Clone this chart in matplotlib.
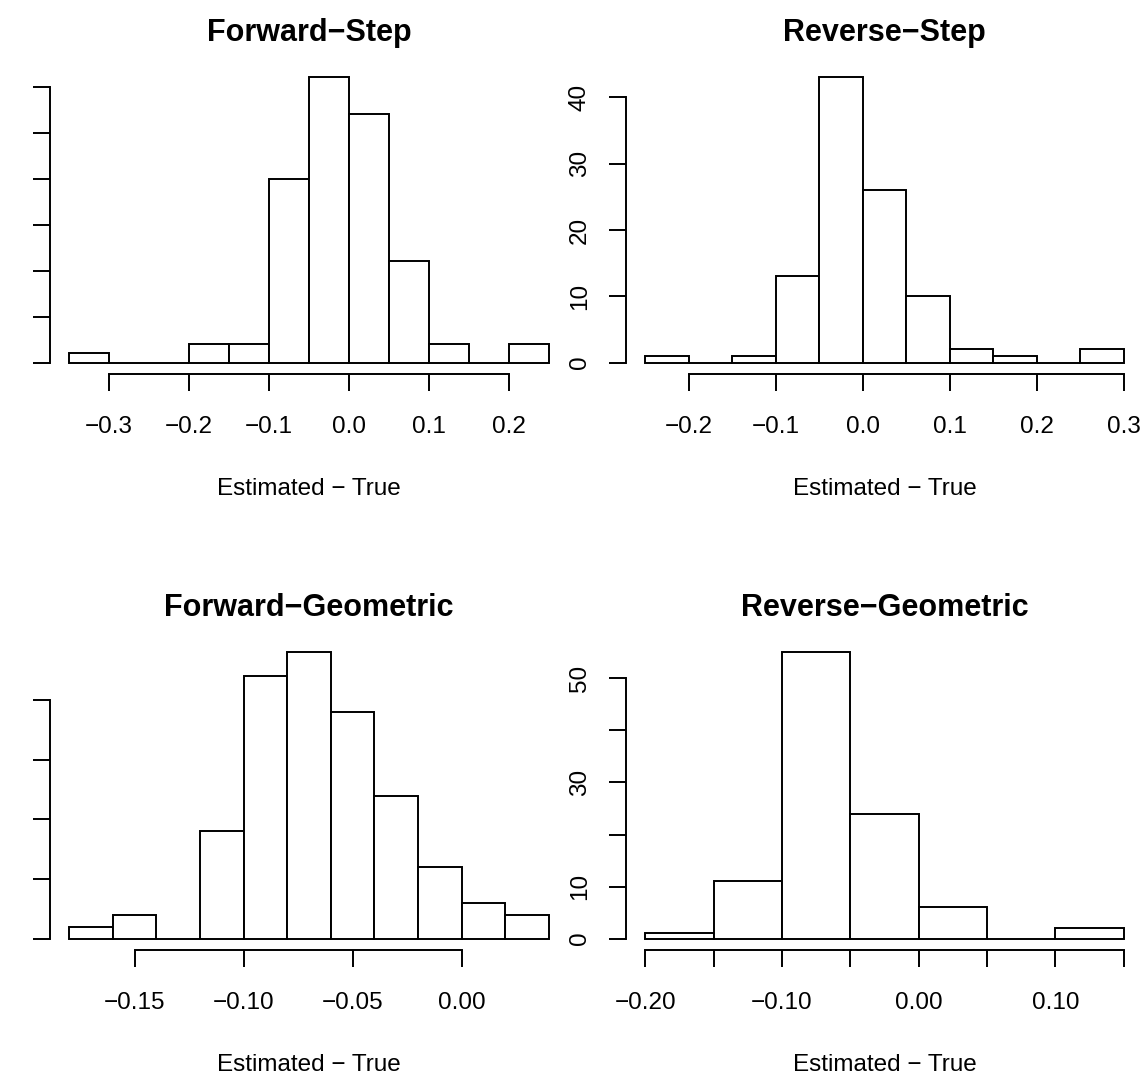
import matplotlib
matplotlib.use('Agg')
import matplotlib.pyplot as plt
from matplotlib.transforms import Bbox, TransformedBbox

plt.rcParams['font.family'] = ['Liberation Sans', 'DejaVu Sans']

# histogram counts
fs_edges = [-0.35, -0.30, -0.25, -0.20, -0.15, -0.10, -0.05, 0.00, 0.05, 0.10, 0.15, 0.20, 0.25]
fs_counts = [1, 0, 0, 2, 2, 20, 31, 27, 11, 2, 0, 2]

rs_edges = [-0.25, -0.20, -0.15, -0.10, -0.05, 0.00, 0.05, 0.10, 0.15, 0.20, 0.25, 0.30]
rs_counts = [1, 0, 1, 13, 43, 26, 10, 2, 1, 0, 2]

fg_edges = [-0.18, -0.16, -0.14, -0.12, -0.10, -0.08, -0.06, -0.04, -0.02, 0.00, 0.02, 0.04]
fg_counts = [1, 2, 0, 9, 22, 24, 19, 12, 6, 3, 2]

rg_edges = [-0.20, -0.15, -0.10, -0.05, 0.00, 0.05, 0.10, 0.15]
rg_counts = [1, 11, 55, 24, 6, 0, 2]

titles = ['Forward\u2212Step', 'Reverse\u2212Step', 'Forward\u2212Geometric', 'Reverse\u2212Geometric']
xlab = 'Estimated \u2212 True'

fs_xticks = [-0.3, -0.2, -0.1, 0.0, 0.1, 0.2]
fs_xlabels = ['\u22120.3', '\u22120.2', '\u22120.1', '0.0', '0.1', '0.2']
fs_yticks = [0, 5, 10, 15, 20, 25, 30]
fs_ylabels = ['0', '5', '10', '15', '20', '25', '30']

rs_xticks = [-0.2, -0.1, 0.0, 0.1, 0.2, 0.3]
rs_xlabels = ['\u22120.2', '\u22120.1', '0.0', '0.1', '0.2', '0.3']
rs_yticks = [0, 10, 20, 30, 40]
rs_ylabels = ['0', '10', '20', '30', '40']

fg_xticks = [-0.15, -0.10, -0.05, 0.00]
fg_xlabels = ['\u22120.15', '\u22120.10', '\u22120.05', '0.00']
fg_yticks = [0, 5, 10, 15, 20]
fg_ylabels = ['0', '5', '10', '15', '20']

rg_xticks = [-0.20, -0.15, -0.10, -0.05, 0.00, 0.05, 0.10, 0.15]
rg_xlabels = ['\u22120.20', '', '\u22120.10', '', '0.00', '', '0.10', '']
rg_yticks = [0, 10, 20, 30, 40, 50]
rg_ylabels = ['0', '10', '', '30', '', '50']

W, H = 1146, 1075
fig = plt.figure(figsize=(W / 100, H / 100), dpi=100)

LW = 1.4
PX = 0.72  # points per pixel at 100 dpi

# the original left figure region starts ~11px in; its y labels get cut there
left_clip = TransformedBbox(Bbox([[11 / W, 0], [1, 1]]), fig.transFigure)


def hist_panel(rect, edges, counts, title, xt, xl, yt, yl, clip=None):
    ax = fig.add_axes(rect)
    widths = [b - a for a, b in zip(edges[:-1], edges[1:])]
    ax.bar(edges[:-1], counts, width=widths, align='edge', facecolor='white',
           edgecolor='black', linewidth=LW)
    span = edges[-1] - edges[0]
    ax.set_xlim(edges[0] - 0.04 * span, edges[-1] + 0.04 * span)
    top = max(counts)
    ax.set_ylim(-0.04 * top, 1.04 * top)

    for s in ['top', 'right']:
        ax.spines[s].set_visible(False)
    ax.spines['left'].set_bounds(yt[0], yt[-1])
    ax.spines['bottom'].set_bounds(xt[0], xt[-1])
    for s in ['left', 'bottom']:
        ax.spines[s].set_linewidth(LW)

    ax.set_xticks(xt)
    ax.set_xticklabels(xl)
    ax.set_yticks(yt)
    ax.set_yticklabels(yl, rotation=90, va='center')
    ax.tick_params(axis='both', length=17 * PX, width=LW, labelsize=17.5)
    ax.tick_params(axis='x', pad=25 * PX)
    ax.tick_params(axis='y', pad=18 * PX)
    if clip is not None:
        for t in ax.get_yticklabels():
            t.set_clip_box(clip)
            t.set_clip_on(True)

    ax.annotate(title, xy=(0.5, 1), xycoords='axes fraction',
                xytext=(0, 25 * PX), textcoords='offset points',
                ha='center', va='baseline', fontsize=22, fontweight='bold')
    ax.annotate(xlab, xy=(0.5, 0), xycoords='axes fraction',
                xytext=(0, -115 * PX), textcoords='offset points',
                ha='center', va='center', fontsize=17.5)
    return ax


lx, rx = 50 / W, 626 / W
lw_, rw_ = 518 / W, 517 / W
ty, by = 1 - 374 / H, 1 - 950 / H
th, bh = 308 / H, 309 / H

hist_panel([lx, ty, lw_, th], fs_edges, fs_counts, titles[0], fs_xticks, fs_xlabels, fs_yticks, fs_ylabels, left_clip)
hist_panel([rx, ty, rw_, th], rs_edges, rs_counts, titles[1], rs_xticks, rs_xlabels, rs_yticks, rs_ylabels)
hist_panel([lx, by, lw_, bh], fg_edges, fg_counts, titles[2], fg_xticks, fg_xlabels, fg_yticks, fg_ylabels, left_clip)
hist_panel([rx, by, rw_, bh], rg_edges, rg_counts, titles[3], rg_xticks, rg_xlabels, rg_yticks, rg_ylabels)

fig.savefig('out.png', dpi=100)
